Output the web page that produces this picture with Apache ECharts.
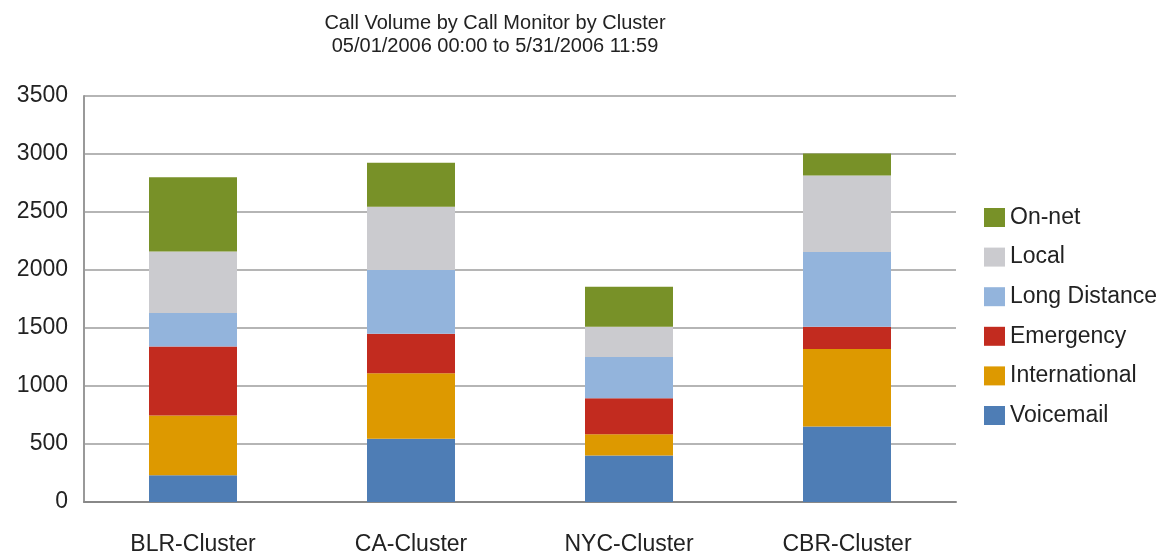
<!DOCTYPE html>
<html>
<head>
<meta charset="utf-8">
<script src="https://cdn.jsdelivr.net/npm/echarts@6/dist/echarts.min.js"></script>
</head>
<body style="margin:0">
<div id="main" style="width: 1173px;height: 556px"></div>

<script type="text/javascript">
    // categories and series, bottom to top
    var clusters = ['BLR-Cluster', 'CA-Cluster', 'NYC-Cluster', 'CBR-Cluster'];
    var voicemail = [230, 545, 400, 650];
    var international = [515, 565, 185, 670];
    var emergency = [595, 340, 310, 190];
    var longDistance = [290, 550, 355, 645];
    var local = [530, 545, 260, 660];
    var onNet = [640, 380, 345, 190];
    var legendOrder = ['On-net', 'Local', 'Long Distance', 'Emergency', 'International', 'Voicemail'];

    var myChart = echarts.init(document.getElementById('main'));

    var font = "'Liberation Sans', Arial, sans-serif";

    function bar(name, data, color) {
        return {
            name: name,
            type: 'bar',
            stack: 'total',
            barWidth: 88,
            data: data,
            itemStyle: {color: color}
        };
    }

    var option = {
        backgroundColor: '#fff',
        title: {
            text: 'Call Volume by Call Monitor by Cluster\n05/01/2006 00:00 to 5/31/2006 11:59',
            left: 490,
            top: 7,
            textAlign: 'center',
            textStyle: {
                fontFamily: font,
                fontSize: 20,
                fontWeight: 'normal',
                color: '#222',
                lineHeight: 23
            }
        },
        legend: {
            data: legendOrder,
            orient: 'vertical',
            left: 979,
            top: 201,
            itemWidth: 21,
            itemHeight: 19,
            itemGap: 16.6,
            icon: 'rect',
            textStyle: {
                fontFamily: font,
                fontSize: 23,
                color: '#222'
            }
        },
        grid: {
            left: 84,
            right: 217,
            top: 96,
            bottom: 51
        },
        xAxis: {
            type: 'category',
            data: clusters,
            axisLine: {lineStyle: {color: '#888', width: 2}},
            axisTick: {show: false},
            axisLabel: {
                fontFamily: font,
                fontSize: 23,
                color: '#222',
                margin: 31
            }
        },
        yAxis: {
            type: 'value',
            min: 0,
            max: 3500,
            interval: 500,
            axisLine: {show: true, lineStyle: {color: '#999', width: 2}},
            axisTick: {show: false},
            splitLine: {lineStyle: {color: '#b5b5b5', width: 2}},
            axisLabel: {
                fontFamily: font,
                fontSize: 23,
                color: '#222',
                margin: 16,
                formatter: function (v) { return String(v); }
            }
        },
        series: [
            bar('Voicemail', voicemail, '#4e7db5'),
            bar('International', international, '#dd9900'),
            bar('Emergency', emergency, '#c22b1f'),
            bar('Long Distance', longDistance, '#93b4dc'),
            bar('Local', local, '#cbcbcf'),
            bar('On-net', onNet, '#789128')
        ]
    };

    myChart.setOption(option);
</script>
</body>
</html>
